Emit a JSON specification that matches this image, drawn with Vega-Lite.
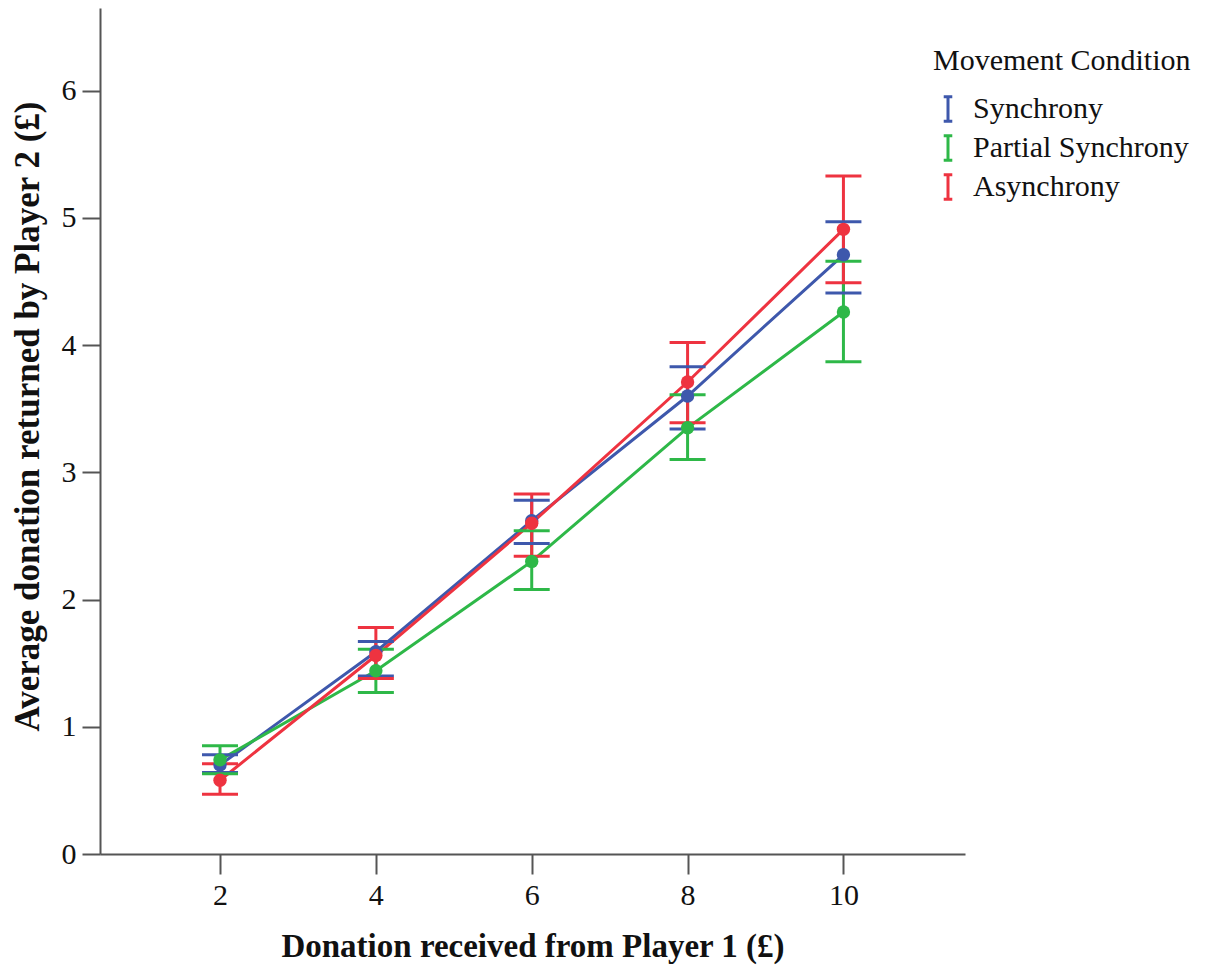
{
  "$schema": "https://vega.github.io/schema/vega-lite/v6.json",
  "width": 865,
  "height": 846,
  "autosize": "none",
  "padding": {"left": 100, "top": 8, "right": 265, "bottom": 114},
  "background": "white",
  "config": {
    "font": "Liberation Serif",
    "view": {"stroke": null},
    "axis": {"domainColor": "#555", "tickColor": "#555", "domainWidth": 2, "tickWidth": 2, "grid": false, "labelColor": "#111", "titleColor": "#111", "labelFont": "Liberation Serif", "titleFont": "Liberation Serif"}
  },
  "data": {
    "values": [
      {"cond": "Synchrony", "x": 2, "mean": 0.70, "lo": 0.64, "hi": 0.78},
      {"cond": "Synchrony", "x": 4, "mean": 1.59, "lo": 1.40, "hi": 1.67},
      {"cond": "Synchrony", "x": 6, "mean": 2.62, "lo": 2.44, "hi": 2.78},
      {"cond": "Synchrony", "x": 8, "mean": 3.60, "lo": 3.34, "hi": 3.83},
      {"cond": "Synchrony", "x": 10, "mean": 4.71, "lo": 4.41, "hi": 4.97},
      {"cond": "Partial Synchrony", "x": 2, "mean": 0.74, "lo": 0.63, "hi": 0.85},
      {"cond": "Partial Synchrony", "x": 4, "mean": 1.44, "lo": 1.27, "hi": 1.61},
      {"cond": "Partial Synchrony", "x": 6, "mean": 2.30, "lo": 2.08, "hi": 2.54},
      {"cond": "Partial Synchrony", "x": 8, "mean": 3.35, "lo": 3.10, "hi": 3.61},
      {"cond": "Partial Synchrony", "x": 10, "mean": 4.26, "lo": 3.87, "hi": 4.66},
      {"cond": "Asynchrony", "x": 2, "mean": 0.58, "lo": 0.47, "hi": 0.71},
      {"cond": "Asynchrony", "x": 4, "mean": 1.56, "lo": 1.38, "hi": 1.78},
      {"cond": "Asynchrony", "x": 6, "mean": 2.60, "lo": 2.34, "hi": 2.83},
      {"cond": "Asynchrony", "x": 8, "mean": 3.71, "lo": 3.39, "hi": 4.02},
      {"cond": "Asynchrony", "x": 10, "mean": 4.91, "lo": 4.49, "hi": 5.33}
    ]
  },
  "encoding": {
    "x": {
      "field": "x", "type": "quantitative",
      "scale": {"domain": [0.46, 11.56], "nice": false, "zero": false},
      "axis": {"values": [2, 4, 6, 8, 10], "format": "d", "title": "Donation received from Player 1 (£)", "titleFontSize": 33, "titleFontWeight": "bold", "labelFontSize": 30, "tickSize": 20, "labelPadding": 6, "titlePadding": 20}
    },
    "color": {
      "field": "cond", "type": "nominal",
      "scale": {"domain": ["Synchrony", "Partial Synchrony", "Asynchrony"], "range": ["#3E58AC", "#2EB848", "#EE3340"]},
      "legend": {
        "title": "Movement Condition", "orient": "none", "legendX": 833, "legendY": 38,
        "titleFontSize": 30, "titleFontWeight": "normal", "titleColor": "#111", "titlePadding": 18, "titleFont": "Liberation Serif", "titleLimit": 0,
        "labelFontSize": 30, "labelColor": "#111", "labelFont": "Liberation Serif", "labelOffset": 10, "labelLimit": 0,
        "symbolType": "M-0.35,-1H0.35M0,-1V1M-0.35,1H0.35", "symbolSize": 600, "symbolStrokeWidth": 3, "rowPadding": 1, "padding": 0, "offset": 0,
        "encode": {"symbols": {"update": {"fill": {"value": "transparent"}, "stroke": {"scale": "color", "field": "value"}, "strokeWidth": {"value": 3}, "opacity": {"value": 1}}}}
      }
    }
  },
  "layer": [
    {
      "mark": {"type": "line", "strokeWidth": 3},
      "encoding": {
        "y": {"field": "mean", "type": "quantitative", "scale": {"domain": [0, 6.65], "nice": false}, "axis": {"values": [0, 1, 2, 3, 4, 5, 6], "format": "d", "title": "Average donation returned by Player 2 (£)", "titleFontSize": 35, "titleFontWeight": "bold", "titleY": 408, "labelFontSize": 30, "tickSize": 18, "labelPadding": 6, "titlePadding": 16}},
        "order": {"field": "x", "type": "quantitative"}
      }
    },
    {
      "mark": {"type": "rule", "strokeWidth": 3},
      "encoding": {
        "y": {"field": "lo", "type": "quantitative"},
        "y2": {"field": "hi"}
      }
    },
    {
      "mark": {"type": "tick", "orient": "horizontal", "size": 36, "thickness": 3, "opacity": 1},
      "encoding": {"y": {"field": "lo", "type": "quantitative"}}
    },
    {
      "mark": {"type": "tick", "orient": "horizontal", "size": 36, "thickness": 3, "opacity": 1},
      "encoding": {"y": {"field": "hi", "type": "quantitative"}}
    },
    {
      "mark": {"type": "point", "filled": true, "opacity": 1, "size": 180},
      "encoding": {"y": {"field": "mean", "type": "quantitative"}}
    }
  ]
}
